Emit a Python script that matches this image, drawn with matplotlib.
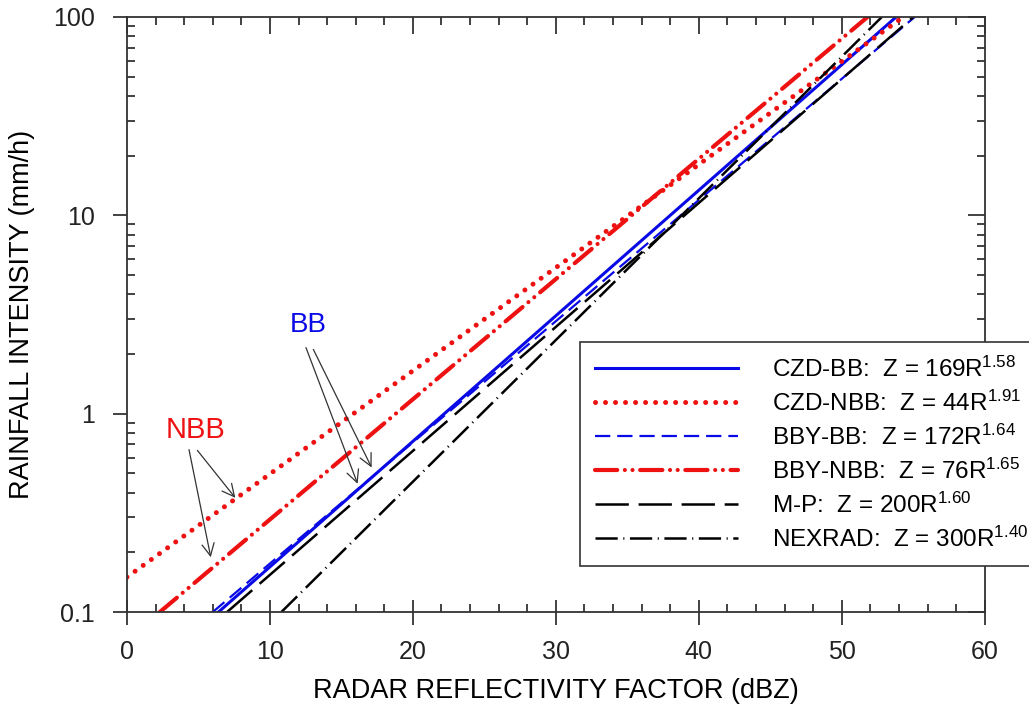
import matplotlib
matplotlib.use("Agg")
from matplotlib import pyplot as plt
import matplotlib.lines as mlines
from matplotlib.ticker import FixedLocator, NullFormatter, LogLocator

plt.rcParams['font.family'] = ['Liberation Sans', 'DejaVu Sans']
plt.rcParams['mathtext.default'] = 'regular'
plt.rcParams['lines.scale_dashes'] = False

# endpoints (dBZ, mm/h)
czd_bb_dbz = [6.4, 53.8]
czd_bb_rain = [0.1, 100]
czd_nbb_dbz = [0.0, 54.3]
czd_nbb_rain = [0.15, 100]
bby_bb_dbz = [6.0, 55.1]
bby_bb_rain = [0.1, 100]
bby_nbb_dbz = [2.3, 51.8]
bby_nbb_rain = [0.1, 100]
mp_dbz = [7.0, 55.0]
mp_rain = [0.1, 100]
nexrad_dbz = [10.8, 52.8]
nexrad_rain = [0.1, 100]

x_ticks = [0, 10, 20, 30, 40, 50, 60]
y_ticks = [0.1, 1, 10, 100]
y_tick_labels = ['0.1', '1', '10', '100']

blue = '#0a0ae6'
red = '#ee1111'

fig = plt.figure(figsize=(10.29, 7.23), dpi=100)
ax = fig.add_axes([0.1234, 0.1535, 0.8336, 0.8230])

ax.plot(czd_bb_dbz, czd_bb_rain, color=blue, lw=2.2,
        label='CZD-BB:  Z = 169R$^{1.58}$')
ax.plot(czd_nbb_dbz, czd_nbb_rain, color=red, lw=3.6,
        linestyle=(0, (0.01, 7.2)), dash_capstyle='round',
        label='CZD-NBB:  Z = 44R$^{1.91}$')
ax.plot(bby_bb_dbz, bby_bb_rain, color=blue, lw=1.6,
        linestyle=(0, (11, 5)),
        label='BBY-BB:  Z = 172R$^{1.64}$')
ax.plot(bby_nbb_dbz, bby_nbb_rain, color=red, lw=3.0,
        linestyle=(0, (16, 5.5, 0.01, 5.5, 0.01, 5.5)), dash_capstyle='round',
        label='BBY-NBB:  Z = 76R$^{1.65}$')
ax.plot(mp_dbz, mp_rain, color='black', lw=1.8,
        linestyle=(0, (24, 7)),
        label='M-P:  Z = 200R$^{1.60}$')
ax.plot(nexrad_dbz, nexrad_rain, color='black', lw=1.8,
        linestyle=(0, (16, 4, 0.8, 4)),
        label='NEXRAD:  Z = 300R$^{1.40}$')

ax.set_yscale('log')
ax.set_xlim(0, 60)
ax.set_ylim(0.1, 100)
ax.xaxis.set_major_locator(FixedLocator(x_ticks))
ax.xaxis.set_minor_locator(FixedLocator(list(range(0, 61, 2))))
ax.yaxis.set_major_locator(FixedLocator(y_ticks))
ax.set_yticklabels(y_tick_labels)
ax.yaxis.set_minor_locator(LogLocator(base=10, subs=range(2, 10)))
ax.yaxis.set_minor_formatter(NullFormatter())

ax.tick_params(which='both', direction='in', top=True, right=True,
               labelsize=18, width=1.2, colors='#222222')
ax.tick_params(which='major', length=12)
ax.tick_params(which='minor', length=6)
ax.tick_params(axis='x', which='major', pad=20)
ax.tick_params(axis='y', which='major', pad=23)

# bottom majors cross the spine, left majors point out
for t in ax.xaxis.get_major_ticks():
    t.tick1line.set_marker('|')
    t.tick1line.set_markersize(18)
for t in ax.yaxis.get_major_ticks():
    t.tick1line.set_marker(mlines.TICKLEFT)
    t.tick1line.set_markersize(10)

for s in ax.spines.values():
    s.set_linewidth(1.3)
    s.set_color('#333333')

ax.set_xlabel('RADAR REFLECTIVITY FACTOR (dBZ)', fontsize=19.5, labelpad=10)
ax.set_ylabel('RAINFALL INTENSITY (mm/h)', fontsize=19.5, labelpad=13)

arrow = dict(arrowstyle='->', color='#333333', lw=0.9, mutation_scale=22)
ax.text(12.7, 2.8, 'BB', color=blue, fontsize=20, ha='center', va='center')
ax.annotate('', xy=(16.2, 0.43), xytext=(12.45, 2.22), arrowprops=arrow)
ax.annotate('', xy=(17.2, 0.52), xytext=(12.95, 2.17), arrowprops=arrow)
ax.text(4.8, 0.83, 'NBB', color=red, fontsize=21, ha='center', va='center')
ax.annotate('', xy=(5.9, 0.183), xytext=(4.3, 0.68), arrowprops=arrow)
ax.annotate('', xy=(7.7, 0.367), xytext=(4.8, 0.67), arrowprops=arrow)

leg = ax.legend(loc='upper left', bbox_to_anchor=(0.5637, 0.527),
                bbox_transform=fig.transFigure, fontsize=17.5,
                frameon=True, fancybox=False, edgecolor='#333333',
                framealpha=1, handlelength=5.88, handletextpad=1.4,
                labelspacing=0.36, borderpad=0.6, borderaxespad=0)
leg.get_frame().set_linewidth(1.2)

fig.savefig('out.png', dpi=100)
